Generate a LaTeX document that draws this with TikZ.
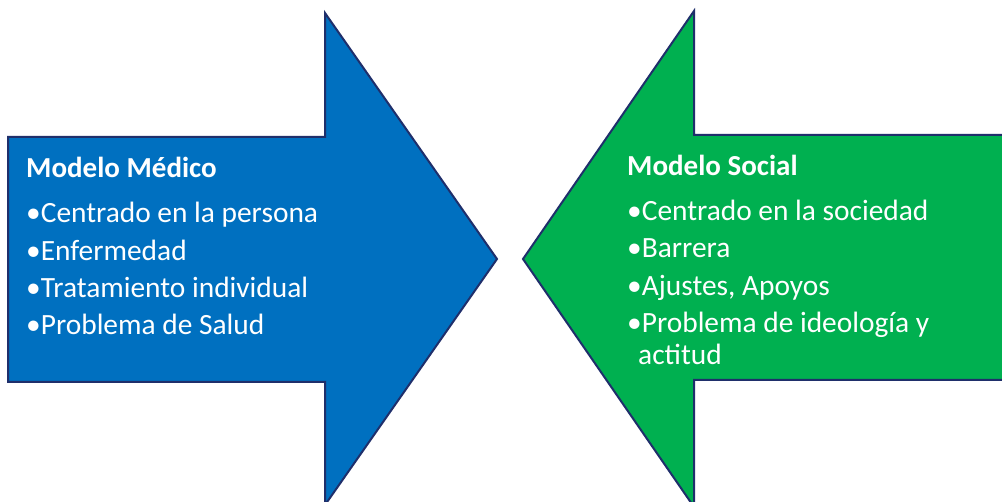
\documentclass[tikz,border=0pt]{standalone}
\usepackage{fontspec}
\setmainfont{Carlito}
\definecolor{medblue}{HTML}{0070C0}
\definecolor{socgreen}{HTML}{00B050}
\definecolor{edge}{HTML}{1F2F6B}
\begin{document}
\begin{tikzpicture}[x=1pt,y=-1pt,
  arrowshape/.style={draw=edge,line width=2pt,line join=miter},
  ttl/.style={anchor=base west,inner sep=0pt,text=white,font=\fontsize{29}{34}\selectfont\bfseries},
  itm/.style={anchor=base west,inner sep=0pt,text=white,font=\fontsize{29.4}{34}\selectfont}]
\useasboundingbox (0,0) rectangle (1002,502);
\fill[white] (0,0) rectangle (1002,502);
% blue arrow pointing right
\draw[arrowshape,fill=medblue] (8,137) -- (325,137) -- (325,13) -- (497,259) -- (325,505) -- (325,382) -- (8,382) -- cycle;
% green arrow pointing left
\draw[arrowshape,fill=socgreen] (1012,135) -- (694,135) -- (694,11) -- (523,259) -- (694,507) -- (694,380) -- (1012,380) -- cycle;
% left text
\node[ttl] (mt) at (26,178) {Modelo Médico};
\node[itm] (m1) at (26,223) {•Centrado en la persona};
\node[itm] (m2) at (26,261) {•Enfermedad};
\node[itm] (m3) at (26,298) {•Tratamiento individual};
\node[itm] (m4) at (26,335) {•Problema de Salud};
% right text
\node[ttl] (st) at (627,176) {Modelo Social};
\node[itm] (s1) at (627,221) {•Centrado en la sociedad};
\node[itm] (s2) at (627,258) {•Barrera};
\node[itm] (s3) at (627,296) {•Ajustes, Apoyos};
\node[itm] (s4) at (627,333) {•Problema de ideología y};
\node[itm] (s5) at (638,365) {actitud};
\end{tikzpicture}
\end{document}
